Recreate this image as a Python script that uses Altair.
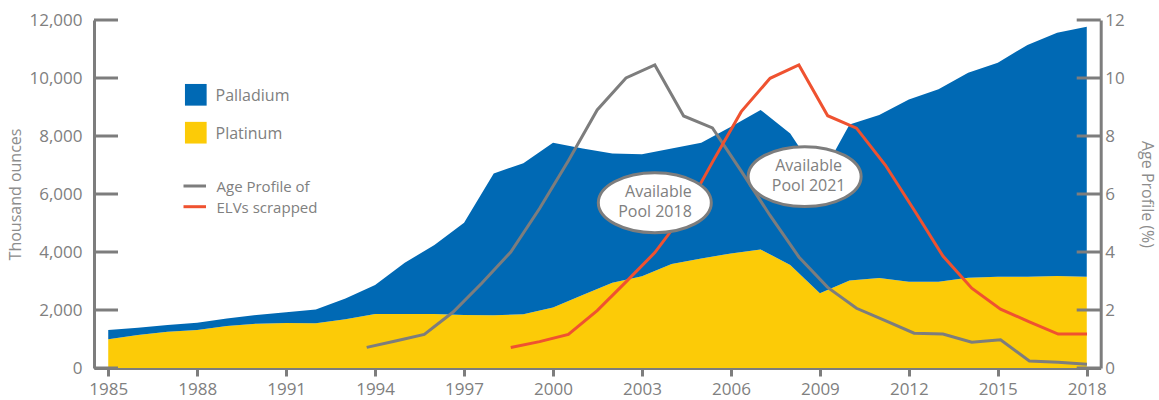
import altair as alt
import pandas as pd

# ---------------- data ----------------
years = list(range(1985, 2019))
platinum = [990, 1140, 1250, 1310, 1450, 1530, 1550, 1540, 1680, 1860,
            1860, 1860, 1830, 1820, 1850, 2090, 2520, 2940, 3160, 3590,
            3780, 3950, 4090, 3550, 2575, 3020, 3100, 2970, 2970, 3110,
            3150, 3150, 3170, 3150]
palladium = [320, 250, 230, 250, 260, 300, 370, 480, 720, 1000,
             1770, 2380, 3180, 4890, 5210, 5680, 5050, 4460, 4210, 3980,
             3990, 4370, 4810, 4540, 3965, 5380, 5620, 6290, 6640, 7070,
             7380, 7990, 8390, 8620]

age_years = list(range(1993, 2019))
age_profile_2018 = [0.71, 0.93, 1.16, 1.93, 2.93, 4.0, 5.5, 7.15, 8.9, 10.0,
                    10.45, 8.69, 8.28, 6.79, 5.26, 3.83, 2.78, 2.06, 1.63, 1.20,
                    1.17, 0.89, 0.97, 0.24, 0.20, 0.13]
elv_years = list(range(1998, 2019))
age_profile_2021 = [0.71, 0.91, 1.16, 1.98, 2.97, 3.98, 5.3, 7.1, 8.84, 9.99,
                    10.45, 8.7, 8.27, 7.0, 5.45, 3.86, 2.75, 2.03, 1.59, 1.17,
                    1.17]

x_ticks = list(range(1985, 2019, 3))
left_ticks = [0, 2000, 4000, 6000, 8000, 10000, 12000]
right_ticks = [0, 2, 4, 6, 8, 10, 12]

ann_year = [2003.0, 2008.2]
ann_level = [5.7, 6.6]
ann_line1 = ["Available", "Available"]
ann_line2 = ["Pool 2018", "Pool 2021"]

# ---------------- styling ----------------
BLUE = "#0069b4"
YELLOW = "#fccb07"
GRAY = "#7d7d7d"
RED = "#ef5230"
TXT = "#808080"
FONT = "Open Sans"
W, H = 1006.7, 348

LEFT_AXIS = alt.Axis(orient="left", values=left_ticks, format=",d",
                     title="Thousand ounces", grid=False, tickSize=0,
                     domainColor=GRAY, domainWidth=3, labelPadding=12,
                     labelFontSize=17, labelColor=TXT, labelFont=FONT,
                     titleFont=FONT, titleFontSize=16, titleFontWeight="normal",
                     titleColor="#8c8c8c", titleAngle=-90,
                     titleX=-79, titleY=H / 2, titleAlign="center",
                     titleBaseline="middle")
RIGHT_AXIS = alt.Axis(orient="right", values=right_ticks, format="d",
                      title="Age Profile (%)", grid=False, tickSize=0,
                      domainColor=GRAY, domainWidth=3, labelPadding=4,
                      labelFontSize=17, labelColor=TXT, labelFont=FONT,
                      titleFont=FONT, titleFontSize=16,
                      titleFontWeight="normal", titleColor="#8c8c8c",
                      titleAngle=90, titleX=46, titleY=H / 2,
                      titleAlign="center", titleBaseline="middle")

y_left_scale = alt.Scale(domain=[0, 12000], nice=False, zero=True)
y_right_scale = alt.Scale(domain=[0, 12], nice=False, zero=True)
x_area_scale = alt.Scale(domain=[1984.52, 2018.47], nice=False, zero=False)
x_line_scale = alt.Scale(domain=[1983.535, 2018.476], nice=False, zero=False)


def yl(field, **kw):
    return alt.Y(field, scale=y_left_scale, axis=LEFT_AXIS, **kw)


def yr(field):
    return alt.Y(field, scale=y_right_scale, axis=RIGHT_AXIS)


def xl(field):
    return alt.X(field, scale=x_line_scale, axis=None)


# ---------------- left group: stacked areas ----------------
area_df = pd.DataFrame({
    "year": years * 2,
    "metal": ["Platinum"] * len(years) + ["Palladium"] * len(years),
    "value": platinum + palladium,
    "ord": [0] * len(years) + [1] * len(years),
})

x_area = alt.X("year:Q", scale=x_area_scale,
               axis=alt.Axis(values=x_ticks, format="d", title=None, grid=False,
                             tickSize=8, tickWidth=3, tickColor=GRAY,
                             domainColor=GRAY, domainWidth=3,
                             labelPadding=5, labelFontSize=17, labelColor=TXT,
                             labelFont=FONT))

area = alt.Chart(area_df).mark_area(interpolate="linear", opacity=1).encode(
    x=x_area,
    y=yl("value:Q", stack="zero"),
    color=alt.Color("metal:N", scale=alt.Scale(domain=["Palladium", "Platinum"],
                                               range=[BLUE, YELLOW]), legend=None),
    order=alt.Order("ord:Q", sort="ascending"),
)

lticks = alt.Chart(pd.DataFrame({"v": left_ticks})).mark_rule(
    color=GRAY, strokeWidth=3).encode(
    y=yl("v:Q"), x=alt.value(0), x2=alt.value(24))

left = alt.layer(area, lticks)

# ---------------- right group: age-profile lines ----------------
gray_df = pd.DataFrame({"year": age_years, "pct": age_profile_2018})
red_df = pd.DataFrame({"year": elv_years, "pct": age_profile_2021})

gray_line = alt.Chart(gray_df).mark_line(color=GRAY, strokeWidth=3).encode(
    x=xl("year:Q"), y=yr("pct:Q"))
red_line = alt.Chart(red_df).mark_line(color=RED, strokeWidth=3).encode(
    x=xl("year:Q"), y=yr("pct:Q"))

rticks = alt.Chart(pd.DataFrame({"v": right_ticks})).mark_rule(
    color=GRAY, strokeWidth=3).encode(
    y=yr("v:Q"), x=alt.value(W - 24), x2=alt.value(W))

ELLIPSE = "M -1 0 A 1 0.53 0 1 0 1 0 A 1 0.53 0 1 0 -1 0 Z"
ann_df = pd.DataFrame({"year": ann_year, "level": ann_level,
                       "l1": ann_line1, "l2": ann_line2})
ellipses = alt.Chart(ann_df).mark_point(
    shape=ELLIPSE, filled=True, fill="white", stroke=GRAY, strokeWidth=3,
    size=113 * 113, opacity=1).encode(
    x=xl("year:Q"), y=yr("level:Q"))

ann_texts = []
for i, (align, dx) in enumerate([("right", 37), ("center", 4)]):
    sub = ann_df.iloc[[i]]
    for field, dy in [("l1", -11), ("l2", 9)]:
        ann_texts.append(
            alt.Chart(sub).mark_text(align=align, baseline="middle", dx=dx, dy=dy,
                                     font=FONT, fontSize=16, color=TXT).encode(
                x=xl("year:Q"), y=yr("level:Q"), text=f"{field}:N"))

right = alt.layer(gray_line, red_line, rticks, ellipses, *ann_texts)

# ---------------- custom legend ----------------
def sq(label, color, yy):
    d = pd.DataFrame({"label": [label]})
    box = alt.Chart(d).mark_square(color=color, size=470, opacity=1).encode(
        x=alt.value(101.8), y=alt.value(yy))
    txt = alt.Chart(d).mark_text(align="left", baseline="middle", font=FONT,
                                 fontSize=16, color=TXT).encode(
        x=alt.value(121.5), y=alt.value(yy + 1), text="label:N")
    return [box, txt]


def ln(label, color, yy):
    d = pd.DataFrame({"label": [label]})
    rule = alt.Chart(d).mark_rule(color=color, strokeWidth=3).encode(
        x=alt.value(89.5), x2=alt.value(112), y=alt.value(yy))
    txt = alt.Chart(d).mark_text(align="left", baseline="middle", font=FONT,
                                 fontSize=15, color=TXT).encode(
        x=alt.value(122.5), y=alt.value(yy + 1), text="label:N")
    return [rule, txt]


legend_layers = (sq("Palladium", BLUE, 74.8) + sq("Platinum", YELLOW, 112.7)
                 + ln("Age Profile of", GRAY, 166) + ln("ELVs scrapped", RED, 186.7))

chart = alt.layer(left, right, *legend_layers).resolve_scale(
    x="independent", y="independent"
).properties(
    width=W, height=H,
    padding={"left": 94, "top": 20, "right": 58.3, "bottom": 32},
    autosize=alt.AutoSizeParams(type="none"),
    background="white",
).configure_view(stroke=None)

chart.save("out.html", embed_options={"renderer": "svg", "actions": False})
